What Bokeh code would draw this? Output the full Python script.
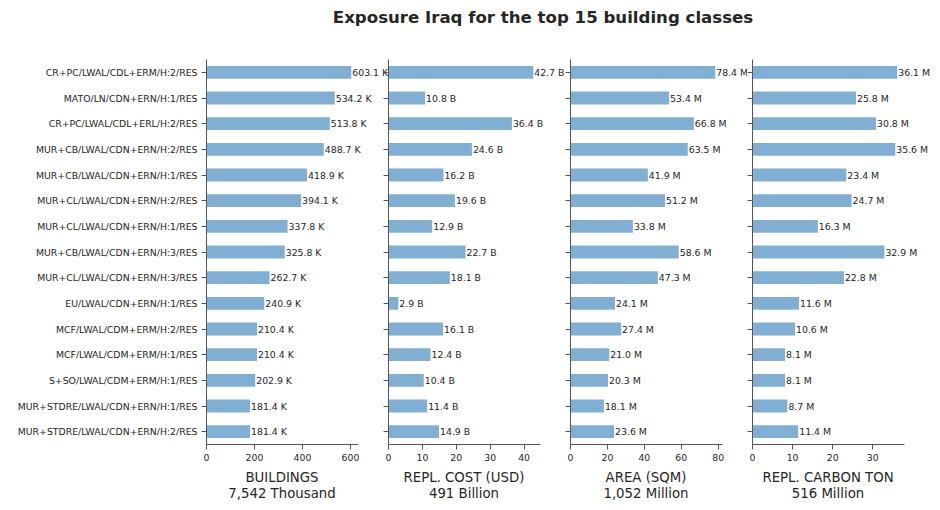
from bokeh.plotting import figure
from bokeh.models import ColumnDataSource, Range1d, FixedTicker, Label, Div
from bokeh.layouts import row, column
from bokeh.embed import file_html
from bokeh.resources import INLINE

classes = ["CR+PC/LWAL/CDL+ERM/H:2/RES", "MATO/LN/CDN+ERN/H:1/RES", "CR+PC/LWAL/CDL+ERL/H:2/RES",
           "MUR+CB/LWAL/CDN+ERN/H:2/RES", "MUR+CB/LWAL/CDN+ERN/H:1/RES", "MUR+CL/LWAL/CDN+ERN/H:2/RES",
           "MUR+CL/LWAL/CDN+ERN/H:1/RES", "MUR+CB/LWAL/CDN+ERN/H:3/RES", "MUR+CL/LWAL/CDN+ERN/H:3/RES",
           "EU/LWAL/CDN+ERN/H:1/RES", "MCF/LWAL/CDM+ERM/H:2/RES", "MCF/LWAL/CDM+ERM/H:1/RES",
           "S+SO/LWAL/CDM+ERM/H:1/RES", "MUR+STDRE/LWAL/CDN+ERN/H:1/RES", "MUR+STDRE/LWAL/CDN+ERN/H:2/RES"]
buildings_k = [603.1, 534.2, 513.8, 488.7, 418.9, 394.1, 337.8, 325.8, 262.7, 240.9, 210.4, 210.4, 202.9, 181.4, 181.4]
cost_b = [42.7, 10.8, 36.4, 24.6, 16.2, 19.6, 12.9, 22.7, 18.1, 2.9, 16.1, 12.4, 10.4, 11.4, 14.9]
area_m = [78.4, 53.4, 66.8, 63.5, 41.9, 51.2, 33.8, 58.6, 47.3, 24.1, 27.4, 21.0, 20.3, 18.1, 23.6]
carbon_m = [36.1, 25.8, 30.8, 35.6, 23.4, 24.7, 16.3, 32.9, 22.8, 11.6, 10.6, 8.1, 8.1, 8.7, 11.4]

titles = [("BUILDINGS", "7,542 Thousand"), ("REPL. COST (USD)", "491 Billion"),
          ("AREA (SQM)", "1,052 Million"), ("REPL. CARBON TON", "516 Million")]
suffixes = ["K", "B", "M", "M"]
xticks = [[0, 200, 400, 600], [0, 10, 20, 30, 40], [0, 20, 40, 60, 80], [0, 10, 20, 30]]
series = [buildings_k, cost_b, area_m, carbon_m]

BAR = "#80afd3"
TXT = "#262626"
AX = "#555555"
FONT = "DejaVu Sans"

n = len(classes)
ypos = [n - 1 - k for k in range(n)]          # first class at the top

AXIS_W = 152                                  # visible axis length (px)
# (left border, frame width, left margin) ; panel 2 overlaps panel 1 so its long label stays whole
frames = [(206, 190, 0), (5, 177, -13), (5, 177, 0), (5, 188, 0)]
# title strip widths/paddings (left pad, right pad) so each title is centred under its axis
label_boxes = [(206, 25), (5, 25), (5, 25), (5, 36)]
figs = []
labels_row = []
for i, (vals, t, suf, tk) in enumerate(zip(series, titles, suffixes, xticks)):
    bl, fw, ml = frames[i]
    xmax = max(vals) * 1.05
    src = ColumnDataSource(dict(y=ypos, val=vals))
    p = figure(width=bl + fw, height=430,
               y_range=Range1d(-0.5, n - 0.5),
               x_range=Range1d(0, xmax * fw / AXIS_W),
               output_backend="svg", toolbar_location=None,
               margin=(0, 0, 0, ml),
               min_border_left=bl, min_border_right=0, min_border_top=19, min_border_bottom=26)
    p.background_fill_color = None
    p.border_fill_color = None
    p.hbar(y="y", right="val", left=0, height=0.5, source=src, color=BAR, line_color=None)
    for yy, v in zip(ypos, vals):
        p.add_layout(Label(x=v, y=yy, text=f"{v:.1f} {suf}", x_offset=1,
                           text_baseline="middle", text_align="left",
                           text_font_size="7pt", text_color=TXT, text_font=FONT))
    p.outline_line_color = None
    p.xgrid.grid_line_color = None
    p.ygrid.grid_line_color = None
    p.xaxis.bounds = (0, xmax)
    p.xaxis.ticker = FixedTicker(ticks=tk, minor_ticks=[])
    p.xaxis.minor_tick_line_color = None
    p.xaxis.major_tick_in = 0
    p.xaxis.major_tick_out = 5
    p.xaxis.major_label_text_font_size = "7pt"
    p.xaxis.major_label_text_font = FONT
    p.xaxis.major_label_text_color = TXT
    p.xaxis.major_label_standoff = 4
    for ax in (p.xaxis, p.yaxis):
        ax.axis_line_color = AX
        ax.major_tick_line_color = AX
    p.yaxis.ticker = FixedTicker(ticks=ypos, minor_ticks=[])
    p.yaxis.major_tick_in = 0
    p.yaxis.major_tick_out = 5
    p.yaxis.minor_tick_line_color = None
    p.yaxis.major_label_text_font = FONT
    if i == 0:
        p.yaxis.major_label_overrides = {yy: c for yy, c in zip(ypos, classes)}
        p.yaxis.major_label_text_font_size = "7pt"
        p.yaxis.major_label_text_color = TXT
        p.yaxis.major_label_standoff = 4
    else:
        p.yaxis.major_label_text_font_size = "0px"
        p.yaxis.major_label_text_color = None
        p.yaxis.major_label_standoff = 0
    figs.append(p)
    pl, pr = label_boxes[i]
    w = pl + AXIS_W + pr
    labels_row.append(Div(text=f"{t[0]}<br>{t[1]}", width=w, height=40, margin=(0, 0, 0, 0),
                          styles={"font-family": FONT, "font-size": "13.3px", "color": TXT,
                                  "text-align": "center", "line-height": "16px",
                                  "padding-left": f"{pl}px", "padding-right": f"{pr}px",
                                  "box-sizing": "border-box", "width": f"{w}px"}))

title = Div(text="Exposure Iraq for the top 15 building classes", width=940, height=40, margin=(0, 0, 0, 0),
            styles={"font-family": FONT, "font-weight": "bold", "font-size": "16.6px", "color": TXT,
                    "text-align": "center", "padding-left": "146px", "padding-top": "8px",
                    "line-height": "20px", "box-sizing": "border-box", "width": "940px"})

layout = column(title, row(*figs, spacing=0), row(*labels_row, spacing=0), spacing=0)
open("out.html", "w").write(file_html(layout, INLINE))
